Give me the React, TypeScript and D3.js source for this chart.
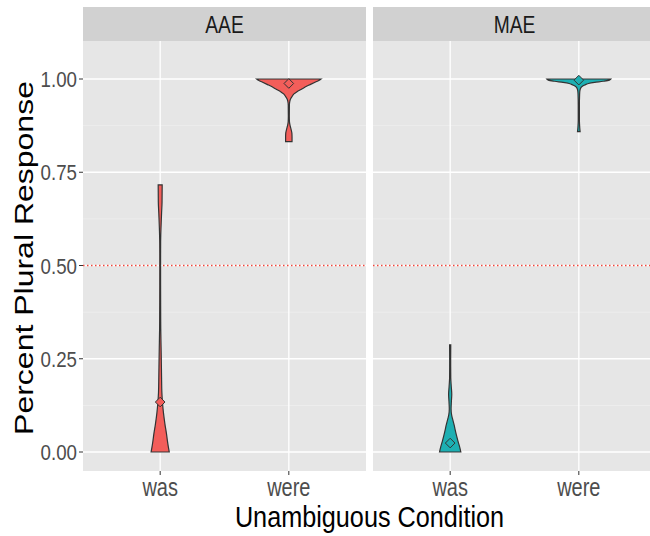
import React, { useEffect, useRef } from "react"
import * as d3 from "d3"

const panels = ["AAE", "MAE"]
const conditions = ["was", "were"]
const yTicks = [0, 0.25, 0.5, 0.75, 1]
const yMinor = [0.125, 0.375, 0.625, 0.875]
const fills = ["#F35E5A", "#1DAFB2"]
const refLine = 0.5

// violin outlines: response value -> relative density
const aaeWasY = [0, 0.013, 0.03, 0.05, 0.075, 0.105, 0.13, 0.16, 0.2, 0.25, 0.28, 0.33, 0.4, 0.5, 0.56, 0.6, 0.64, 0.67, 0.716]
const aaeWasD = [0.283, 0.255, 0.225, 0.194, 0.148, 0.102, 0.074, 0.052, 0.043, 0.034, 0.028, 0.018, 0.014, 0.012, 0.014, 0.025, 0.043, 0.058, 0.062]
const aaeWereY = [0.832, 0.845, 0.855, 0.865, 0.875, 0.885, 0.9, 0.93, 0.94, 0.945, 0.952, 0.96, 0.966, 0.972, 0.979, 0.985, 0.992, 0.996, 1]
const aaeWereD = [0.1, 0.1, 0.095, 0.07, 0.04, 0.02, 0.015, 0.018, 0.031, 0.046, 0.092, 0.16, 0.255, 0.38, 0.52, 0.66, 0.83, 0.93, 1]
const maeWasY = [0, 0.015, 0.03, 0.045, 0.06, 0.07, 0.08, 0.09, 0.1, 0.115, 0.135, 0.155, 0.175, 0.2, 0.25, 0.287]
const maeWasD = [0.332, 0.29, 0.24, 0.194, 0.154, 0.13, 0.1, 0.07, 0.043, 0.028, 0.037, 0.049, 0.034, 0.018, 0.015, 0.018]
const maeWereY = [0.859, 0.87, 0.89, 0.93, 0.96, 0.97, 0.975, 0.98, 0.984, 0.988, 0.991, 0.994, 0.997, 1]
const maeWereD = [0.04, 0.028, 0.018, 0.018, 0.025, 0.037, 0.055, 0.1, 0.185, 0.3, 0.49, 0.75, 0.95, 1]
const meansAAE = [0.134, 0.988]
const meansMAE = [0.024, 0.997]

const W = 650
const H = 536
const panelTop = 41
const panelBottom = 471
const stripTop = 7
const panelX = [[83, 366], [373, 656]]

const App = () => {
  const ref = useRef<SVGSVGElement>(null)

  useEffect(() => {
    const svg = d3.select(ref.current)
    svg.selectAll("*").remove()

    const violins = [
      [{ y: aaeWasY, d: aaeWasD }, { y: aaeWereY, d: aaeWereD }],
      [{ y: maeWasY, d: maeWasD }, { y: maeWereY, d: maeWereD }],
    ]
    const means = [meansAAE, meansMAE]

    const y = d3.scaleLinear().domain([-0.0509, 1.1019]).range([panelBottom, panelTop])
    const font = "'Liberation Sans', Arial, sans-serif"

    // squeezed text, the picture is narrower than it is tall
    const label = (g: any, x: number, yy: number, s: string, size: number, sq: number, fill: string, anchor: string, rot = 0) =>
      g.append("text")
        .attr("transform", `translate(${x},${yy}) scale(${sq},1)${rot ? ` rotate(${rot})` : ""}`)
        .attr("text-anchor", anchor).attr("font-family", font).attr("font-size", size)
        .attr("fill", fill).text(s)

    panels.forEach((name, pi) => {
      const [x0, x1] = panelX[pi]
      const x = d3.scalePoint<string>().domain(conditions).range([x0, x1]).padding(0.6)
      const step = x.step()
      const w = d3.scaleLinear().domain([0, 1]).range([0, step * 0.25])
      const g = svg.append("g")

      g.append("rect").attr("x", x0).attr("y", panelTop).attr("width", x1 - x0)
        .attr("height", panelBottom - panelTop).attr("fill", "#E6E6E6")

      g.selectAll(".minor").data(yMinor).enter().append("line")
        .attr("x1", x0).attr("x2", x1).attr("y1", d => y(d)).attr("y2", d => y(d))
        .attr("stroke", "#F4F4F4").attr("stroke-width", 0.6)
      g.selectAll(".major").data(yTicks).enter().append("line")
        .attr("x1", x0).attr("x2", x1).attr("y1", d => y(d)).attr("y2", d => y(d))
        .attr("stroke", "#FFFFFF").attr("stroke-width", 1.3)
      g.selectAll(".vmajor").data(conditions).enter().append("line")
        .attr("x1", d => x(d)!).attr("x2", d => x(d)!).attr("y1", panelTop).attr("y2", panelBottom)
        .attr("stroke", "#FFFFFF").attr("stroke-width", 1.3)

      // strip
      g.append("rect").attr("x", x0).attr("y", stripTop).attr("width", x1 - x0)
        .attr("height", panelTop - stripTop).attr("fill", "#D1D1D1")
      label(g, (x0 + x1) / 2, stripTop + 26, name, 24, 0.8, "#1A1A1A", "middle")

      // reference line
      g.append("line").attr("x1", x0).attr("x2", x1).attr("y1", y(refLine)).attr("y2", y(refLine))
        .attr("stroke", "#F0473C").attr("stroke-width", 1.3).attr("stroke-dasharray", "1.5,2.5")

      conditions.forEach((c, ci) => {
        const cx = x(c)!
        const v = violins[pi][ci]
        const pts = v.y.map((val, i) => ({ val, den: v.d[i] }))
        const area = d3.area<{ val: number; den: number }>()
          .y(d => y(d.val))
          .x0(d => cx - w(d.den))
          .x1(d => cx + w(d.den))
          .curve(d3.curveMonotoneY)
        g.append("path").attr("d", area(pts)!)
          .attr("fill", fills[pi]).attr("stroke", "#333333").attr("stroke-width", 1.2)

        const m = y(means[pi][ci])
        const r = 4.8
        g.append("path")
          .attr("d", `M${cx},${m - r}L${cx + r},${m}L${cx},${m + r}L${cx - r},${m}Z`)
          .attr("fill", fills[pi]).attr("stroke", "#333333").attr("stroke-width", 1)

        // x ticks + labels
        g.append("line").attr("x1", cx).attr("x2", cx).attr("y1", panelBottom).attr("y2", panelBottom + 4)
          .attr("stroke", "#333333").attr("stroke-width", 1)
        label(g, cx, 496, c, 25, 0.8, "#4D4D4D", "middle")
      })
    })

    // y axis on first panel
    const ya = svg.append("g")
    yTicks.forEach(t => {
      ya.append("line").attr("x1", panelX[0][0] - 4).attr("x2", panelX[0][0])
        .attr("y1", y(t)).attr("y2", y(t)).attr("stroke", "#333333").attr("stroke-width", 1)
      label(ya, panelX[0][0] - 6, y(t) + 8, d3.format(".2f")(t), 22, 0.85, "#4D4D4D", "end")
    })

    label(svg, (panelX[0][0] + panelX[1][1]) / 2, 527, "Unambiguous Condition", 29, 0.87, "#000000", "middle")
    label(svg, 33, (panelTop + panelBottom) / 2 + 2, "Percent Plural Response", 32, 0.8, "#000000", "middle", -90)
  }, [])

  return (
    <svg ref={ref} width={W} height={H}
      style={{ position: "absolute", left: 0, top: 0, background: "#FFFFFF" }} />
  )
}

export default App
